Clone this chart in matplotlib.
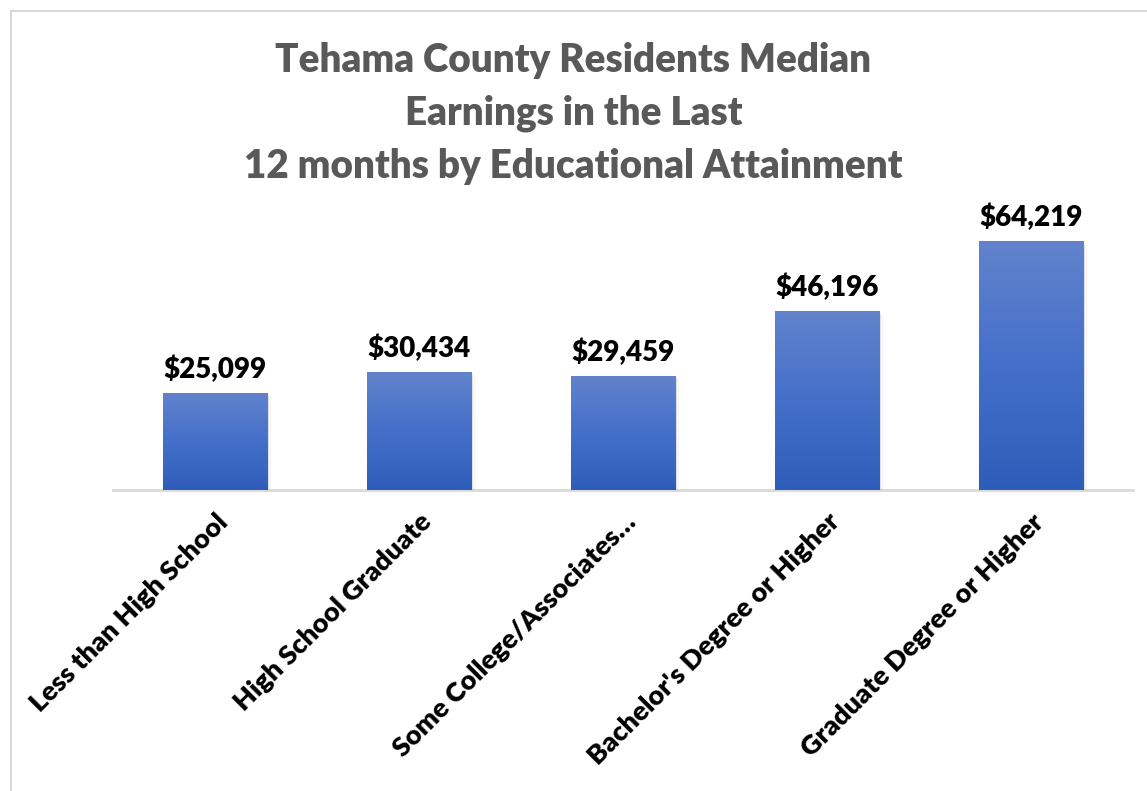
import matplotlib
matplotlib.use("Agg")
import matplotlib.pyplot as plt
import numpy as np
from matplotlib.patches import Rectangle
from matplotlib.colors import LinearSegmentedColormap

categories = [
    "Less than High School",
    "High School Graduate",
    "Some College/Associates\u2026",
    "Bachelor's Degree or Higher",
    "Graduate Degree or Higher",
]
earnings = [25099, 30434, 29459, 46196, 64219]
title = "Tehama County Residents Median\nEarnings in the Last\n12 months by Educational Attainment"

plt.rcParams["font.family"] = ["Lato", "DejaVu Sans"]

fig = plt.figure(figsize=(11.47, 7.91), dpi=100)
fig.patch.set_facecolor("white")

# chart frame (only the top and left edges fall inside the canvas)
fig.patches.append(Rectangle((11 / 1147, -0.05), 1.2, 1 - 11 / 791 + 0.05,
                             transform=fig.transFigure, fill=False,
                             edgecolor="#D9D9D9", linewidth=1.5))

ax = fig.add_axes([113 / 1147, 301 / 791, 1020 / 1147, 271 / 791])

# gradient fill for the bars, lighter at the top
grad = LinearSegmentedColormap.from_list("bar", ["#2E5DB9", "#4470C9", "#6283CC"])
x = np.arange(len(categories))
width = 0.51
bars = ax.bar(x, earnings, width=width, color="none", edgecolor="none", zorder=3)
for b in bars:
    x0, w, h = b.get_x(), b.get_width(), b.get_height()
    # soft shadow on the right/bottom
    for k, a in enumerate([0.10, 0.07, 0.04]):
        ax.add_patch(Rectangle((x0 + 0.006 * (k + 1), -300 * (k + 1)), w, h,
                               facecolor="black", alpha=a, edgecolor="none", zorder=2))
    img = ax.imshow(np.linspace(0, 1, 256).reshape(-1, 1), cmap=grad, aspect="auto",
                    extent=(x0, x0 + w, 0, h), origin="lower", zorder=3)
    img.set_clip_path(b)
    ax.text(b.get_x() + w / 2, h + 2600, f"${h:,.0f}", ha="center", va="bottom",
            fontsize=20, fontweight="heavy", color="black", zorder=4)

ax.set_xlim(-0.5, len(categories) - 0.5)
ax.set_ylim(0, 70000)

for s in ["top", "right", "left"]:
    ax.spines[s].set_visible(False)
ax.spines["bottom"].set_color("#D9D9D9")
ax.spines["bottom"].set_linewidth(2)
ax.spines["bottom"].set_zorder(1)
ax.set_yticks([])
ax.set_xticks(x)
ax.set_xticklabels(categories, rotation=45, ha="right", va="top",
                   rotation_mode="anchor", fontsize=19.5, fontweight="heavy")
ax.tick_params(axis="x", length=0, pad=14)

fig.text(0.5, 1 - 42 / 791, title, ha="center", va="top", fontsize=27.8,
         fontweight="heavy", color="#595959", linespacing=1.52)

fig.savefig("out.png", dpi=100, facecolor="white")
